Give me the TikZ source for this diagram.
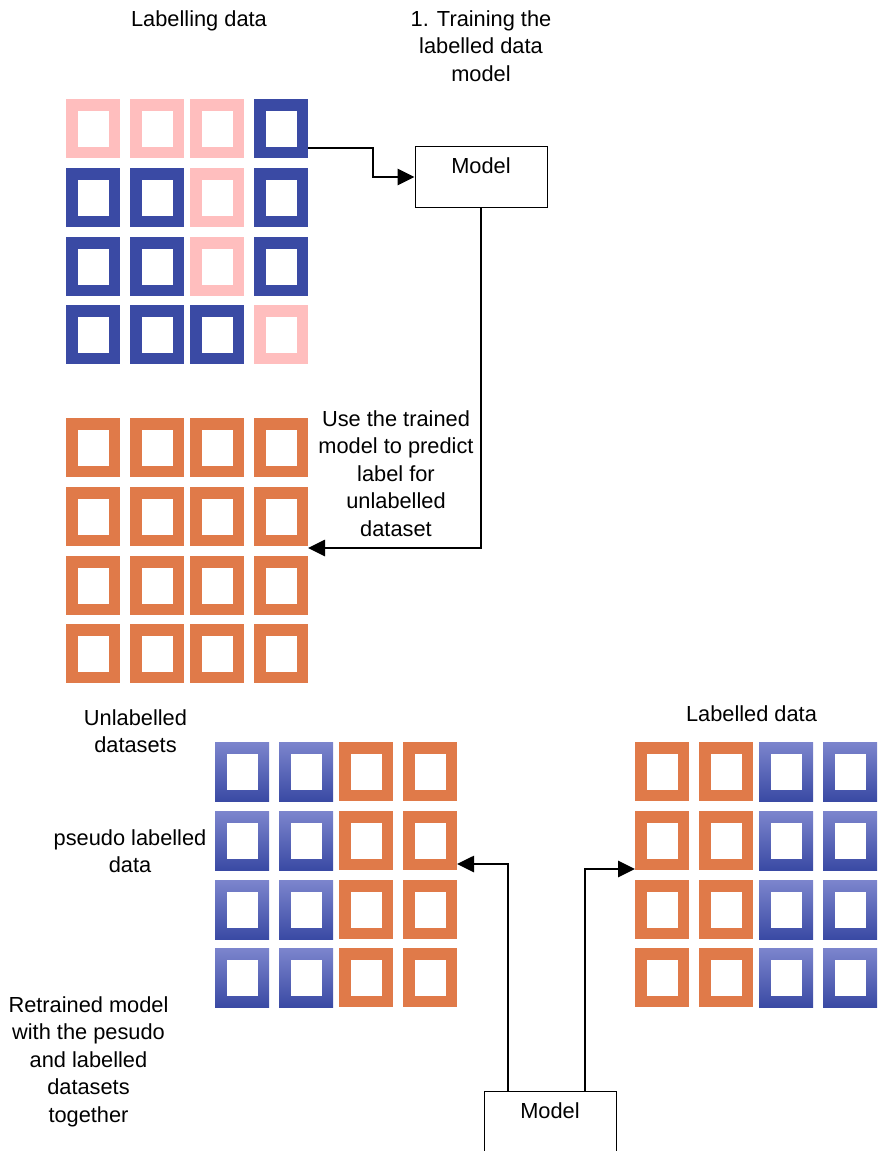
\documentclass[tikz,border=0pt]{standalone}
\usepackage{fontspec}
\setmainfont{Liberation Sans}
\usetikzlibrary{calc}
\usetikzlibrary{arrows.meta}

\definecolor{pinkc}{RGB}{255,190,190}
\definecolor{bluec}{RGB}{58,74,164}
\definecolor{bluelt}{RGB}{124,133,205}
\definecolor{orangec}{RGB}{224,122,73}

\tikzset{
  cell/.style={line width=11.5pt,minimum width=42.5pt,minimum height=47.5pt,inner sep=0pt},
  pk/.style={cell,draw=pinkc},
  bl/.style={cell,draw=bluec},
  og/.style={cell,draw=orangec},
  gb/.style={minimum width=54pt,minimum height=59pt,inner sep=0pt,
    top color=bluelt,bottom color=bluec,
    path picture={\fill[white]([shift={(11.5pt,11.5pt)}]path picture bounding box.south west)
      rectangle ([shift={(-11.5pt,-11.5pt)}]path picture bounding box.north east);}},
  model/.style={draw,line width=1pt,minimum width=132pt,inner xsep=0pt,inner ysep=0pt,
    text height=27pt,text depth=34pt,anchor=north},
  txt/.style={align=center,anchor=base},
  link/.style={->,line width=2.7pt},
}

% 4x4 block of squares: name, top left corner, one style list per row
\newcommand{\cellgrid}[3]{%
  \foreach \list [count=\r] in {#3}
    \foreach \sty [count=\c] in \list {
      \pgfmathsetmacro\dx{{0,64,124,188}[\c-1]}
      \pgfmathsetmacro\dy{{0,69,138,206}[\r-1]}
      \node[\sty] (#1-\r-\c) at ($(#2)+(\dx+27,\dy+29.5)$) {};
    }}

\begin{document}
\begin{tikzpicture}[>={Triangle[length=17pt,width=16pt]},x=1pt,y=-1pt,
    every node/.style={font=\fontsize{21.8pt}{27.5pt}\selectfont}]
    \useasboundingbox (0,0) rectangle (879,1151);
    % data blocks
    \cellgrid{a}{66,99}{{pk,pk,pk,bl},{bl,bl,pk,bl},{bl,bl,pk,bl},{bl,bl,bl,pk}}
    \cellgrid{u}{66,418}{{og,og,og,og},{og,og,og,og},{og,og,og,og},{og,og,og,og}}
    \cellgrid{p}{215,742}{{gb,gb,og,og},{gb,gb,og,og},{gb,gb,og,og},{gb,gb,og,og}}
    \cellgrid{l}{635,742}{{og,og,gb,gb},{og,og,gb,gb},{og,og,gb,gb},{og,og,gb,gb}}
    % models
    \node[model] (m1) at (481,146) {Model};
    \node[model] (m2) at (550,1091) {Model};
    % labels (base = last line)
    \node[txt] (t1) at (199,27) {Labelling data};
    \node[txt] (t2) at (481,81) {1. Training the\\labelled data\\model};
    \node[txt] (t3) at (396,536) {Use the trained\\model to predict\\label for\\unlabelled\\dataset};
    \node[txt] (t4) at (135.5,752.5) {Unlabelled\\datasets};
    \node[txt] (t5) at (751.5,721) {Labelled data};
    \node[txt] (t6) at (130,872.5) {pseudo labelled\\data};
    \node[txt] (t7) at (88.5,1122) {Retrained model\\with the pesudo\\and labelled\\datasets\\together};
    % arrows
    \draw[link] ([yshift=-19.5pt]a-1-4.east) -- ++(65,0) |- (m1.west);
    \draw[link] (m1.south) |- ([yshift=-2pt]u-2-4.south east);
    \draw[link] ([xshift=-42pt]m2.north) |- ([yshift=-23.5pt]p-2-4.east);
    \draw[link] ([xshift=35pt]m2.north) |- ([yshift=-28.5pt]l-2-1.west);
\end{tikzpicture}
\end{document}
